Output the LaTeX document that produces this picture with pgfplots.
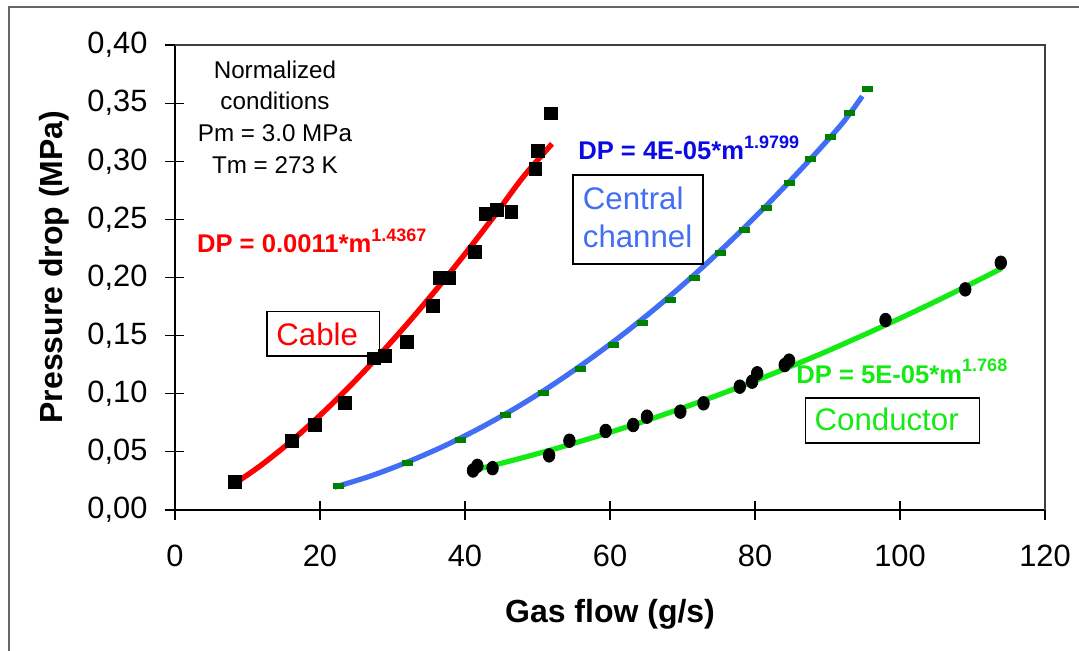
\documentclass[border=0pt]{standalone}
\usepackage{fontspec}
\setmainfont{Liberation Sans}
\usepackage{pgfplots}
\pgfplotsset{compat=1.18}

\definecolor{cablered}{RGB}{255,0,0}
\definecolor{chanblue}{RGB}{66,110,245}
\definecolor{eqblue}{RGB}{10,10,230}
\definecolor{condgreen}{RGB}{20,235,20}
\definecolor{markgreen}{RGB}{0,128,0}

\newcommand{\sups}[1]{\raisebox{5.6pt}{\fontsize{9}{10}\selectfont\bfseries #1}}

\begin{document}
\begin{tikzpicture}
\begin{axis}[
    at={(0pt,0pt)}, anchor=south west,
    scale only axis, width=435pt, height=232.5pt,
    xmin=0, xmax=120, ymin=0, ymax=0.4,
    xtick={0,20,40,60,80,100,120},
    ytick={0,0.05,0.1,0.15,0.2,0.25,0.3,0.35,0.4},
    axis x line*=bottom, axis y line*=left,
    axis line style={black, line width=1pt, -},
    tick align=center, major tick length=9.5pt,
    tick style={black, line width=0.6pt},
    /pgf/number format/assume math mode=true,
    every tick label/.append style={font=\fontsize{15.4}{18}\selectfont},
    yticklabel style={xshift=-5.5pt,
        /pgf/number format/fixed, /pgf/number format/fixed zerofill,
        /pgf/number format/precision=2, /pgf/number format/use comma},
    xticklabel style={yshift=-9pt},
    xlabel={Gas flow (g/s)},
    ylabel={Pressure drop (MPa)},
    label style={font=\fontsize{16}{19}\selectfont\bfseries},
    xlabel style={at={([yshift=-56.3pt]axis description cs:0.5,0)}, anchor=base},
    ylabel style={at={([xshift=-56.3pt]axis description cs:0,0.5226)}, anchor=base},
]
% cable: measured points, then fit
\addplot[only marks, mark=square*, mark size=3.2pt, black] coordinates {
  (8.3,0.024) (16.1,0.0593) (19.3,0.073) (23.4,0.0918) (27.4,0.1305)
  (29.0,0.1328) (32.0,0.1448) (35.6,0.1758) (36.5,0.1999) (37.8,0.1999)
  (41.4,0.2222) (42.8,0.255) (44.4,0.258) (46.4,0.2566) (49.7,0.2933)
  (50.0,0.3088) (51.9,0.3412)
};
\addplot[cablered, line width=2.7pt, smooth] coordinates {
  (8.5,0.0238) (12,0.0391) (16,0.0591) (20,0.0814) (24,0.1058) (28,0.1320)
  (32,0.1599) (36,0.1894) (40,0.2203) (44,0.2526) (48,0.2863) (52,0.3150)
};
% central channel
\addplot[only marks, mark=square*, mark size=2.5pt, markgreen,
         mark options={yscale=0.5}] coordinates {
  (22.6,0.0206) (32.1,0.0401) (39.4,0.0602) (45.6,0.0817) (50.8,0.1004)
  (55.9,0.121) (60.4,0.1419) (64.5,0.1606) (68.3,0.181) (71.7,0.1999)
  (75.2,0.2208) (78.5,0.2409) (81.6,0.26) (84.7,0.281) (87.6,0.3017)
  (90.4,0.3206) (93.0,0.3412) (95.5,0.362)
};
\addplot[chanblue, line width=2.6pt, smooth] coordinates {
  (22,0.0196) (27,0.0293) (32,0.0411) (37,0.0547) (42,0.0703) (47,0.0878)
  (52,0.1073) (57,0.1288) (62,0.1521) (67,0.1773) (72,0.2045) (77,0.2336)
  (82,0.2646) (87,0.2975) (92,0.3323) (94.8,0.3560)
};
% conductor
\addplot[only marks, mark=*, mark size=3.4pt, black,
         mark options={xscale=0.85}] coordinates {
  (41.1,0.034) (41.7,0.038) (43.8,0.036) (51.6,0.047) (54.4,0.0596)
  (59.4,0.068) (63.2,0.0731) (65.1,0.0803) (69.7,0.0846) (72.9,0.0918)
  (77.9,0.1061) (79.6,0.1104) (80.3,0.1176) (84.1,0.1247) (84.7,0.1285)
  (98.0,0.1634) (109.0,0.1898) (113.9,0.2127)
};
\addplot[condgreen, line width=2.6pt, smooth] coordinates {
  (41.3,0.0345) (47,0.0434) (53,0.0537) (59,0.0649) (65,0.0769) (71,0.0900)
  (77,0.1038) (83,0.1186) (89,0.1341) (95,0.1506) (101,0.1678) (107,0.1858)
  (114,0.2078)
};

% conditions note
\begin{scope}[every node/.style={font=\fontsize{12.1}{14}\selectfont, anchor=base, inner sep=0pt}]
  \node at (axis cs:13.79,0.3715) {Normalized};
  \node at (axis cs:13.79,0.3441) {conditions};
  \node at (axis cs:13.79,0.3168) {Pm = 3.0 MPa};
  \node at (axis cs:13.79,0.2896) {Tm = 273 K};
\end{scope}

% fit equations
\begin{scope}[every node/.style={font=\fontsize{12.8}{15}\selectfont\bfseries, anchor=base west, inner sep=0pt}]
  \node[text=cablered] at (axis cs:2.99,0.2211) {DP = 0.0011*m\sups{1.4367}};
  \node[text=eqblue] at (axis cs:55.57,0.3011) {DP = 4E-05*m\sups{1.9799}};
  \node[text=condgreen] at (axis cs:85.66,0.1092) {DP = 5E-05*m\sups{1.768}};
\end{scope}

% labelled boxes
\draw[black, line width=0.8pt, fill=white] (axis cs:12.65,0.1325) rectangle (axis cs:28.18,0.1706);
\draw[black, line width=0.8pt, fill=white] (axis cs:54.88,0.2116) rectangle (axis cs:72.86,0.2882);
\draw[black, line width=0.8pt, fill=white] (axis cs:86.97,0.0574) rectangle (axis cs:110.98,0.0966);
\begin{scope}[every node/.style={font=\fontsize{15.6}{18}\selectfont, anchor=base west, inner sep=0pt}]
  \node[text=cablered] at (axis cs:13.93,0.1419) {Cable};
  \node[text=chanblue] at (axis cs:56.21,0.2581) {Central};
  \node[text=chanblue] at (axis cs:56.21,0.2254) {channel};
  \node[text=condgreen] at (axis cs:88.18,0.0688) {Conductor};
\end{scope}
\end{axis}

% top and right edges of the plot area, outer frame
\draw[black!75, line width=1pt] (0pt,232.5pt) -- (435pt,232.5pt) -- (435pt,0pt);
\draw[black!60, line width=0.8pt] (-83pt,-90pt) -- (-83pt,251.5pt) -- (470pt,251.5pt);

\pgfresetboundingbox
\path[use as bounding box] (-87.5pt,-70pt) rectangle (452pt,255pt);
\end{tikzpicture}
\end{document}
